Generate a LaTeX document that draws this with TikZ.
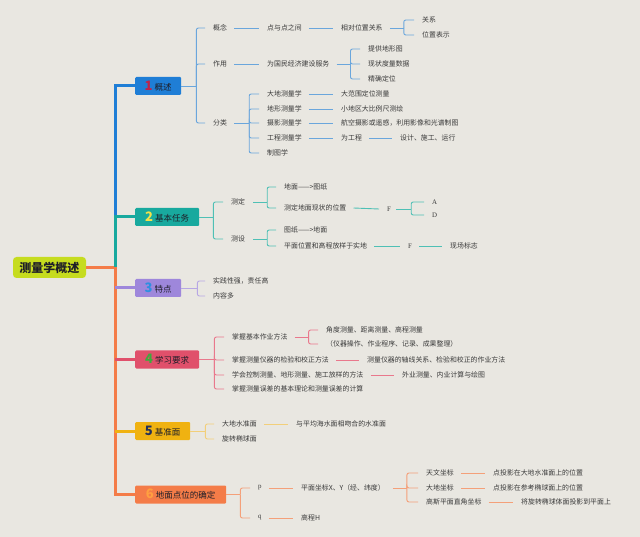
\documentclass[tikz,border=0pt]{standalone}
\usepackage{fontspec}
\setmainfont{Noto Sans CJK SC}
\newfontfamily\serifl{Liberation Serif}
\usetikzlibrary{calc}
\definecolor{bg}{HTML}{E9E7E1}
\definecolor{txt}{HTML}{3A3A3A}
\definecolor{boxtxt}{HTML}{1E1E28}
\definecolor{rootc}{HTML}{C6DC1F}
\definecolor{cA}{HTML}{1F7ED6}
\definecolor{cB}{HTML}{18A99E}
\definecolor{cC}{HTML}{9E87DB}
\definecolor{cD}{HTML}{E0506B}
\definecolor{cE}{HTML}{F0B211}
\definecolor{cF}{HTML}{F47C48}
\definecolor{lA}{HTML}{6AA6DC}
\definecolor{lB}{HTML}{4FC0B5}
\definecolor{lC}{HTML}{B7A7E4}
\definecolor{lD}{HTML}{E9788C}
\definecolor{lE}{HTML}{F2CF7A}
\definecolor{lF}{HTML}{F4A079}
\definecolor{nA}{HTML}{C0234A}
\definecolor{nB}{HTML}{F5E24A}
\definecolor{nC}{HTML}{2E8FE0}
\definecolor{nD}{HTML}{3DAA3D}
\definecolor{nE}{HTML}{23305A}
\definecolor{nF}{HTML}{FFA040}
\newcommand\bxnum[2]{{\fontsize{13}{13}\selectfont\bfseries\color{#1}#2}\hspace{2pt}}
\newcommand\brelbow[5]{%
  \coordinate (#2-e) at ($(#2.east)+(#4,0)$);
  \draw[#1] ([xshift=#3]#2.east) -- (#2-e);
  \foreach \ch in {#5} {\draw[#1] (#2-e) |- ([xshift=-8pt]\ch.west);}%
}
\newcommand\brline[3]{\draw[#1] ([xshift=7pt]#2.east) -- ([xshift=-8pt]#3.west);}
\begin{document}
\begin{tikzpicture}[x=1pt,y=-1pt,
  leaf/.style={anchor=west, inner sep=0pt, text=txt, font=\fontsize{6.9}{8}\selectfont},
  box/.style={anchor=west, inner sep=0pt, minimum height=18pt, rounded corners=1.2pt, text=boxtxt, font=\fontsize{8.5}{10}\selectfont},
  rootbox/.style={inner sep=0pt, minimum width=73pt, minimum height=21pt, rounded corners=3.5pt, fill=rootc, text=boxtxt, font=\fontsize{12}{14}\selectfont\bfseries},
  tk/.style={line width=3pt},
  sub/.style={line width=0.9pt, rounded corners=2pt},
  sA/.style={sub, draw=lA}, sB/.style={sub, draw=lB}, sC/.style={sub, draw=lC},
  sD/.style={sub, draw=lD}, sE/.style={sub, draw=lE}, sF/.style={sub, draw=lF}]
\useasboundingbox (0,0) rectangle (640,537);
\fill[bg] (0,0) rectangle (640,537);

% root and main boxes
\node[rootbox] (root) at (49.5,267.5) {测量学概述};
\node[box, fill=cA, minimum width=46pt] (b1) at (135,86) {\bxnum{nA}{1}概述};
\node[box, fill=cB, minimum width=64pt] (b2) at (135,217) {\bxnum{nB}{2}基本任务};
\node[box, fill=cC, minimum width=46pt] (b3) at (135,288) {\bxnum{nC}{3}特点};
\node[box, fill=cD, minimum width=64pt] (b4) at (135,359.5) {\bxnum{nD}{4}学习要求};
\node[box, fill=cE, minimum width=55pt] (b5) at (135,431) {\bxnum{nE}{5}基准面};
\node[box, fill=cF, minimum width=91pt] (b6) at (135,494.5) {\bxnum{nF}{6}地面点位的确定};

% trunk
\coordinate (tr) at (115,267.5);
\draw[tk, cF] (root.east) -- (tr) -- (tr |- b6.west) -- (b6.west);
\draw[tk, cA] (b1.west) -- (tr |- b1.west) -- (tr |- b2.west);
\draw[tk, cB] (b2.west) -- (tr |- b2.west) -- (tr);
\draw[tk, cC] (tr |- b3.west) -- (b3.west);
\draw[tk, cD] (tr |- b4.west) -- (b4.west);
\draw[tk, cE] (tr |- b5.west) -- (b5.west);

% branch 1
\node[leaf] (g1) at (213,28) {概念};
\node[leaf] (g2) at (213,64) {作用};
\node[leaf] (g3) at (213,123) {分类};
\node[leaf] (g1a) at (267,28) {点与点之间};
\node[leaf] (g1b) at (341,28) {相对位置关系};
\node[leaf] (g1c) at (422,20) {关系};
\node[leaf] (g1d) at (422,35) {位置表示};
\node[leaf] (g2a) at (267,64) {为国民经济建设服务};
\node[leaf] (g2b) at (368,49) {提供地形图};
\node[leaf] (g2c) at (368,64) {现状度量数据};
\node[leaf] (g2d) at (368,79) {精确定位};
\node[leaf] (g3a) at (267,94) {大地测量学};
\node[leaf] (g3b) at (267,109) {地形测量学};
\node[leaf] (g3c) at (267,123) {摄影测量学};
\node[leaf] (g3d) at (267,138) {工程测量学};
\node[leaf] (g3e) at (267,153) {制图学};
\node[leaf] (g3a1) at (341,94) {大范围定位测量};
\node[leaf] (g3b1) at (341,109) {小地区大比例尺测绘};
\node[leaf] (g3c1) at (341,123) {航空摄影或遥感，利用影像和光谱制图};
\node[leaf] (g3d1) at (341,138) {为工程};
\node[leaf] (g3d2) at (400,138) {设计、施工、运行};
\brelbow{sA}{b1}{0pt}{15pt}{g1,g2,g3}
\brline{sA}{g1}{g1a}
\brline{sA}{g1a}{g1b}
\brelbow{sA}{g1b}{7pt}{21pt}{g1c,g1d}
\brline{sA}{g2}{g2a}
\brelbow{sA}{g2a}{7pt}{21pt}{g2b,g2c,g2d}
\brelbow{sA}{g3}{7pt}{22pt}{g3a,g3b,g3c,g3d,g3e}
\brline{sA}{g3a}{g3a1}
\brline{sA}{g3b}{g3b1}
\brline{sA}{g3c}{g3c1}
\brline{sA}{g3d}{g3d1}
\brline{sA}{g3d1}{g3d2}

% branch 2
\node[leaf] (h1) at (231,202) {测定};
\node[leaf] (h2) at (231,239) {测设};
\node[leaf] (h1a) at (284,187) {地面——>图纸};
\node[leaf] (h1b) at (284,208) {测定地面现状的位置};
\node[leaf] (h1c) at (387,209) {\serifl F};
\node[leaf] (h1d) at (432,202) {\serifl A};
\node[leaf] (h1e) at (432,215) {\serifl D};
\node[leaf] (h2a) at (284,230) {图纸——>地面};
\node[leaf] (h2b) at (284,246) {平面位置和高程放样于实地};
\node[leaf] (h2c) at (408,246) {\serifl F};
\node[leaf] (h2d) at (450,246) {现场标志};
\brelbow{sB}{b2}{0pt}{14pt}{h1,h2}
\brelbow{sB}{h1}{8pt}{22pt}{h1a,h1b}
\brline{sB}{h1b}{h1c}
\brelbow{sB}{h1c}{5pt}{20pt}{h1d,h1e}
\brelbow{sB}{h2}{8pt}{22pt}{h2a,h2b}
\brline{sB}{h2b}{h2c}
\brline{sB}{h2c}{h2d}

% branch 3
\node[leaf] (i1) at (213,281) {实践性强，责任高};
\node[leaf] (i2) at (213,296) {内容多};
\brelbow{sC}{b3}{0pt}{16pt}{i1,i2}

% branch 4
\node[leaf] (j1) at (232,337) {掌握基本作业方法};
\node[leaf] (j2) at (232,360) {掌握测量仪器的检验和校正方法};
\node[leaf] (j3) at (232,375) {学会控制测量、地形测量、施工放样的方法};
\node[leaf] (j4) at (232,389) {掌握测量误差的基本理论和测量误差的计算};
\node[leaf] (j1a) at (326,330) {角度测量、距离测量、高程测量};
\node[leaf] (j1b) at (326,344) {（仪器操作、作业程序、记录、成果整理）};
\node[leaf] (j2a) at (367,360) {测量仪器的轴线关系、检验和校正的作业方法};
\node[leaf] (j3a) at (402,375) {外业测量、内业计算与绘图};
\brelbow{sD}{b4}{0pt}{15pt}{j1,j2,j3,j4}
\brelbow{sD}{j1}{7pt}{21pt}{j1a,j1b}
\brline{sD}{j2}{j2a}
\brline{sD}{j3}{j3a}

% branch 5
\node[leaf] (k1) at (222,424) {大地水准面};
\node[leaf] (k2) at (222,439) {旋转椭球面};
\node[leaf] (k1a) at (296,424) {与平均海水面相吻合的水准面};
\brelbow{sE}{b5}{0pt}{15pt}{k1,k2}
\brline{sE}{k1}{k1a}

% branch 6
\node[leaf] (m1) at (258,488) {\serifl p};
\node[leaf] (m2) at (258,518) {\serifl q};
\node[leaf] (m1a) at (301,488) {平面坐标X、Y（经、纬度）};
\node[leaf] (m2a) at (301,518) {高程H};
\node[leaf] (m1b) at (426,473) {天文坐标};
\node[leaf] (m1c) at (426,488) {大地坐标};
\node[leaf] (m1d) at (426,502) {高斯平面直角坐标};
\node[leaf] (m1b1) at (493,473) {点投影在大地水准面上的位置};
\node[leaf] (m1c1) at (493,488) {点投影在参考椭球面上的位置};
\node[leaf] (m1d1) at (521,502) {将旋转椭球体面投影到平面上};
\brelbow{sF}{b6}{0pt}{14pt}{m1,m2}
\brline{sF}{m1}{m1a}
\brline{sF}{m2}{m2a}
\brelbow{sF}{m1a}{8pt}{22pt}{m1b,m1c,m1d}
\brline{sF}{m1b}{m1b1}
\brline{sF}{m1c}{m1c1}
\brline{sF}{m1d}{m1d1}
\end{tikzpicture}
\end{document}
